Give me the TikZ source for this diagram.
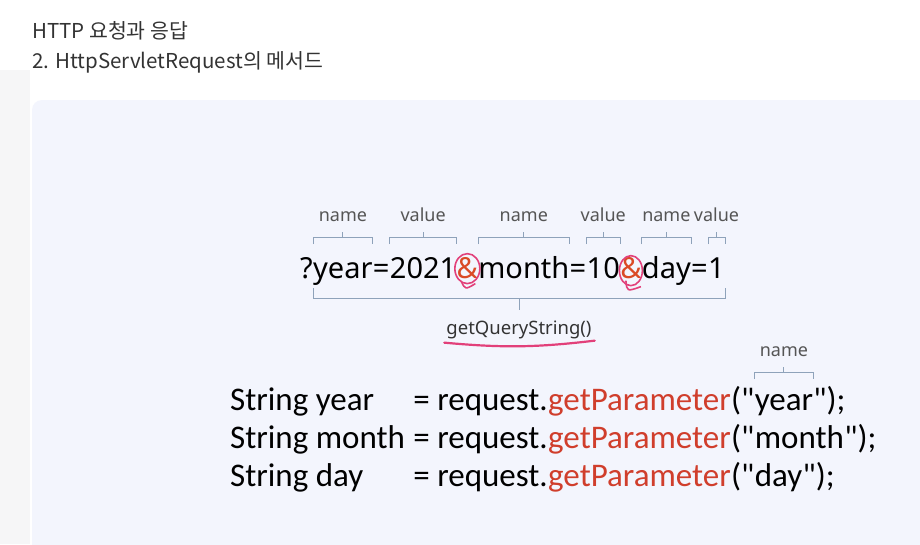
\documentclass[tikz,border=0pt]{standalone}
\usepackage{fontspec}
\usepackage{xcolor}
\usetikzlibrary{positioning,calc}
\setmainfont{Noto Sans}
\newfontfamily\krfont{Noto Sans CJK KR}
\newfontfamily\codefont{Carlito}
\definecolor{panel}{HTML}{F3F5FD}
\definecolor{strip}{HTML}{F6F6F7}
\definecolor{bracecol}{HTML}{8EA2BA}
\definecolor{method}{HTML}{D03E2C}
\definecolor{amp}{HTML}{DA4A26}
\definecolor{ringcol}{HTML}{E2407A}
\definecolor{titlegray}{HTML}{333333}
\definecolor{labelgray}{HTML}{555555}

% bracket over nodes #1..#2, bar at y=#3, label #4
\newcommand{\topbrace}[4]{%
  \draw[brk] (#1.west |- 0,#3+7) -- (#1.west |- 0,#3) -- (#2.east |- 0,#3) -- (#2.east |- 0,#3+7);
  \draw[brk] ($(#1.west |- 0,#3)!.5!(#2.east |- 0,#3)$) -- ++(0,-5) coordinate (tip)
    ++(0,-11) node[lbl, anchor=base] {#4};
}

\begin{document}
\begin{tikzpicture}[x=1pt, y=-1pt,
    qtext/.style={font=\fontsize{29}{32}\selectfont, inner sep=0pt, anchor=base west},
    code/.style={font=\codefont\fontsize{33}{36}\selectfont, inner sep=0pt, anchor=base west},
    lbl/.style={font=\fontsize{18}{20}\selectfont, text=labelgray, inner sep=0pt},
    ttl/.style={font=\krfont\fontsize{20.5}{22}\selectfont, text=titlegray, inner sep=0pt, anchor=base west},
    brk/.style={draw=bracecol, line width=0.9pt},
    ring/.style={draw=ringcol, line width=1.6pt},
    uline/.style={draw=ringcol, line width=2.2pt, line cap=round}]
  \useasboundingbox (0,0) rectangle (920,544);

  % Background
  \fill[white] (0,0) rectangle (920,544);
  \fill[strip] (0,70) rectangle (30,544);
  \fill[panel, rounded corners=10pt] (32,100) rectangle (940,570);

  % Title
  \node[ttl] (t1) at (32,38) {HTTP 요청과 응답};
  \node[ttl] (t2) at (32,68) {2. HttpServletRequest의 메서드};

  % Query string
  \node[qtext] (q) at (300,278) {?};
  \node[qtext, base right=0pt of q] (k1) {year};
  \node[qtext, base right=0pt of k1] (e1) {=};
  \node[qtext, base right=0pt of e1] (v1) {2021};
  \node[qtext, text=amp, base right=0pt of v1] (amp1) {\&};
  \node[qtext, base right=0pt of amp1] (k2) {month};
  \node[qtext, base right=0pt of k2] (e2) {=};
  \node[qtext, base right=0pt of e2] (v2) {10};
  \node[qtext, text=amp, base right=0pt of v2] (amp2) {\&};
  \node[qtext, base right=0pt of amp2] (k3) {day};
  \node[qtext, base right=0pt of k3] (e3) {=};
  \node[qtext, base right=0pt of e3] (v3) {1};

  % Rings round the ampersands
  \draw[ring] ([yshift=-1pt]amp1.center) ellipse [x radius=12.5, y radius=15];
  \draw[ring] ([shift={(-6,14)}]amp1.center) .. controls ([shift={(-2,22)}]amp1.center) .. ([shift={(8,16)}]amp1.center);
  \draw[ring] ([yshift=-3pt]amp2.center) ellipse [x radius=11.5, y radius=15];
  \draw[ring] ([shift={(-5,13)}]amp2.center) .. controls ([shift={(-4,24)}]amp2.center) .. ([shift={(10,19)}]amp2.center);

  % name / value brackets
  \topbrace{k1}{k1}{237}{name}
  \topbrace{v1}{v1}{237}{value}
  \topbrace{k2}{k2}{237}{name}
  \topbrace{v2}{v2}{237}{value}
  \topbrace{k3}{k3}{237}{name}
  \topbrace{v3}{v3}{237}{value}

  % Brace under the query string
  \draw[brk] (k1.west |- 0,288) -- (k1.west |- 0,298) -- (v3.east |- 0,298) -- (v3.east |- 0,288);
  \draw[brk] ($(k1.west |- 0,298)!.5!(v3.east |- 0,298)$) -- ++(0,12) coordinate (qtip);
  \node[lbl, font=\fontsize{18.5}{20}\selectfont, text=titlegray, anchor=base] (gqs) at (qtip |- 0,334) {getQueryString()};
  \draw[uline] ([shift={(-2,4)}]gqs.south west) to[bend right=6] ([shift={(3,2)}]gqs.south east);

  % Code lines
  \node[code] (d1) at (230,410) {String year};
  \node[code, anchor=base east] (r1) at (548,410) {= request.};
  \node[code, text=method, base right=0pt of r1] (m1) {getParameter};
  \node[code, base right=0pt of m1] (o1) {("};
  \node[code, base right=0pt of o1] (a1) {year};
  \node[code, base right=0pt of a1] (c1) {");};

  \node[code] (d2) at (230,448) {String month};
  \node[code, anchor=base east] (r2) at (548,448) {= request.};
  \node[code, text=method, base right=0pt of r2] (m2) {getParameter};
  \node[code, base right=0pt of m2] (o2) {("};
  \node[code, base right=0pt of o2] (a2) {month};
  \node[code, base right=0pt of a2] (c2) {");};

  \node[code] (d3) at (230,486) {String day};
  \node[code, anchor=base east] (r3) at (548,486) {= request.};
  \node[code, text=method, base right=0pt of r3] (m3) {getParameter};
  \node[code, base right=0pt of m3] (o3) {("};
  \node[code, base right=0pt of o3] (a3) {day};
  \node[code, base right=0pt of a3] (c3) {");};

  % name bracket over "year"
  \topbrace{a1}{a1}{372}{name}
\end{tikzpicture}
\end{document}
